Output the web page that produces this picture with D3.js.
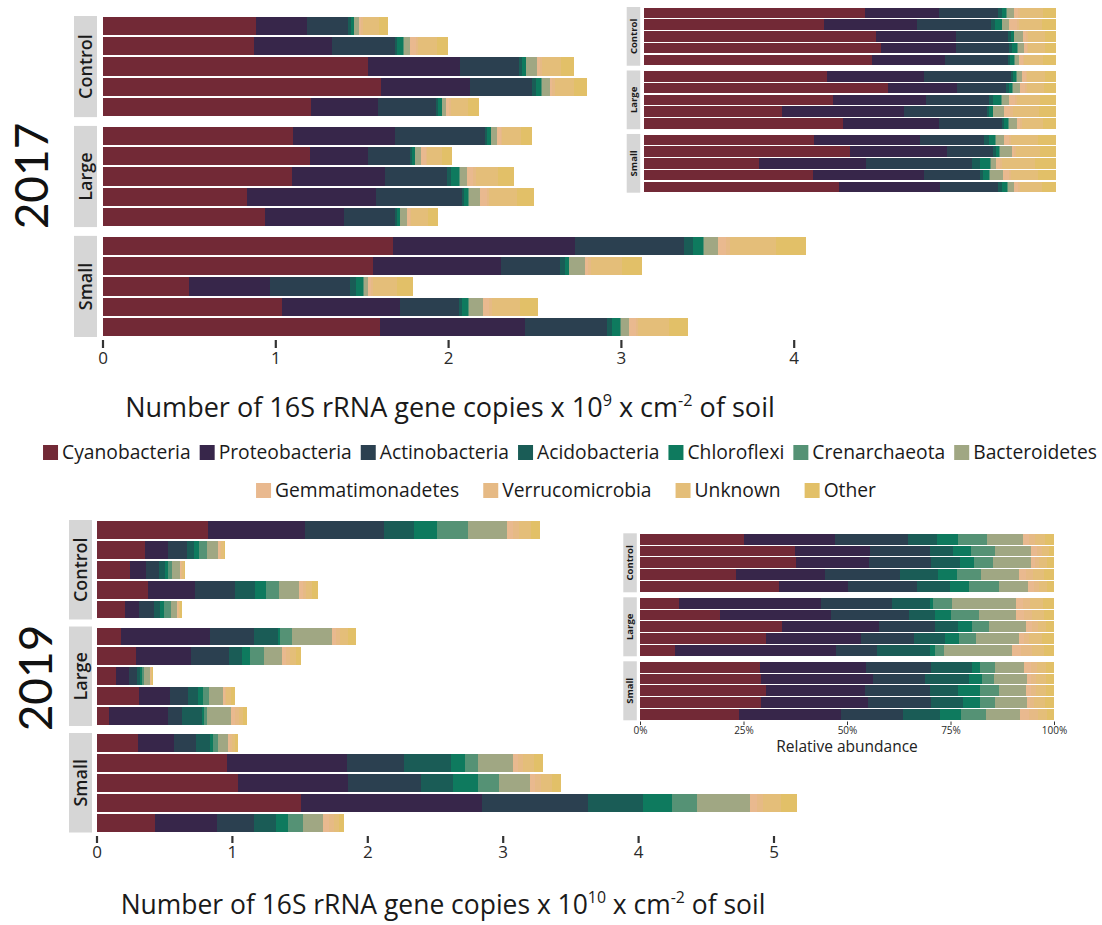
<!DOCTYPE html>
<html><head><meta charset="utf-8">
<script src="https://cdn.jsdelivr.net/npm/d3@7"></script>
<style>
body{margin:0;background:#fff}
svg text{font-family:Lato,"Open Sans",sans-serif}
</style>
</head><body>
<svg id="chart" width="1102" height="925"></svg>
<script>
const taxa = ["Cyanobacteria","Proteobacteria","Actinobacteria","Acidobacteria","Chloroflexi","Crenarchaeota","Bacteroidetes","Gemmatimonadetes","Verrucomicrobia","Unknown","Other"];
const taxonColors = ["#722936","#37264a","#2b4050","#1a5c56","#0e7a5e","#559275","#a0a783","#e9b98f","#e6ba85","#e4be79","#e2c068"];
const groups = ["Control","Large","Small"];
const sampleIds = ["C1","C2","C3","C4","C5","L1","L2","L3","L4","L5","S1","S2","S3","S4","S5"];

// 2017: 16S copies x 10^9 per cm2 (rows C1..C5, L1..L5, S1..S5)
const cyanobacteria2017    = [0.887,0.877,1.537,1.614,1.209, 1.105,1.199,1.094,0.839,0.939, 1.684,1.567,0.502,1.037,1.608];
const proteobacteria2017   = [0.296,0.452,0.532,0.513,0.386, 0.587,0.338,0.539,0.742,0.456, 1.051,0.737,0.467,0.683,0.835];
const actinobacteria2017   = [0.237,0.362,0.341,0.361,0.333, 0.521,0.242,0.363,0.498,0.296, 0.628,0.344,0.462,0.341,0.478];
const acidobacteria2017    = [0.016,0.015,0.020,0.019,0.013, 0.014,0.013,0.021,0.014,0.011, 0.055,0.027,0.035,0.019,0.027];
const chloroflexi2017      = [0.017,0.035,0.019,0.033,0.021, 0.019,0.016,0.047,0.023,0.018, 0.055,0.022,0.041,0.036,0.047];
const crenarchaeota2017    = [0.002,0.003,0.004,0.004,0.003, 0.003,0.003,0.004,0.005,0.003, 0.007,0.005,0.004,0.005,0.005];
const bacteroidetes2017    = [0.027,0.034,0.060,0.043,0.021, 0.036,0.035,0.042,0.061,0.041, 0.080,0.088,0.023,0.082,0.049];
const gemmatimonadetes2017 = [0.016,0.035,0.019,0.017,0.019, 0.019,0.024,0.035,0.042,0.014, 0.049,0.022,0.019,0.036,0.036];
const verrucomicrobia2017  = [0.010,0.012,0.012,0.012,0.010, 0.010,0.010,0.014,0.015,0.010, 0.020,0.015,0.010,0.014,0.016];
const unknown2017          = [0.090,0.110,0.110,0.115,0.100, 0.105,0.085,0.130,0.160,0.095, 0.270,0.180,0.140,0.165,0.175];
const other2017            = [0.052,0.067,0.072,0.070,0.064, 0.065,0.055,0.090,0.098,0.061, 0.174,0.116,0.091,0.105,0.115];

// 2019: 16S copies x 10^10 per cm2
const cyanobacteria2019    = [0.823,0.356,0.247,0.380,0.212, 0.180,0.290,0.144,0.311,0.095, 0.303,0.966,1.047,1.510,0.435];
const proteobacteria2019   = [0.718,0.172,0.115,0.348,0.104, 0.656,0.407,0.098,0.233,0.430, 0.267,0.886,0.814,1.340,0.454];
const actinobacteria2019   = [0.583,0.137,0.098,0.298,0.106, 0.330,0.285,0.057,0.131,0.110, 0.165,0.417,0.539,0.781,0.272];
const acidobacteria2019    = [0.224,0.053,0.046,0.148,0.049, 0.174,0.092,0.024,0.077,0.142, 0.102,0.348,0.231,0.406,0.164];
const chloroflexi2019      = [0.169,0.042,0.021,0.077,0.030, 0.013,0.061,0.014,0.034,0.015, 0.021,0.101,0.187,0.211,0.092];
const crenarchaeota2019    = [0.227,0.055,0.030,0.095,0.046, 0.090,0.102,0.017,0.042,0.022, 0.038,0.103,0.156,0.185,0.108];
const bacteroidetes2019    = [0.290,0.082,0.060,0.150,0.044, 0.293,0.132,0.038,0.106,0.183, 0.074,0.258,0.224,0.396,0.150];
const gemmatimonadetes2019 = [0.045,0.013,0.007,0.026,0.008, 0.032,0.030,0.006,0.012,0.025, 0.016,0.033,0.043,0.048,0.041];
const verrucomicrobia2019  = [0.045,0.013,0.007,0.027,0.008, 0.032,0.031,0.006,0.013,0.028, 0.016,0.041,0.042,0.049,0.040];
const unknown2019          = [0.083,0.015,0.012,0.045,0.012, 0.060,0.042,0.008,0.033,0.032, 0.023,0.076,0.078,0.130,0.038];
const other2019            = [0.070,0.012,0.011,0.039,0.011, 0.053,0.037,0.008,0.029,0.028, 0.020,0.066,0.067,0.115,0.033];

const ticks2017 = [0,1,2,3,4];
const ticks2019 = [0,1,2,3,4,5];
const relTicks = [0,0.25,0.5,0.75,1];
const years = ["2017","2019"];

const series2017 = [cyanobacteria2017,proteobacteria2017,actinobacteria2017,acidobacteria2017,chloroflexi2017,crenarchaeota2017,bacteroidetes2017,gemmatimonadetes2017,verrucomicrobia2017,unknown2017,other2017];
const series2019 = [cyanobacteria2019,proteobacteria2019,actinobacteria2019,acidobacteria2019,chloroflexi2019,crenarchaeota2019,bacteroidetes2019,gemmatimonadetes2019,verrucomicrobia2019,unknown2019,other2019];

function buildRows(series){
  return sampleIds.map((id,i)=>{
    const r = {id, group: groups[Math.floor(i/5)], idx: i%5};
    taxa.forEach((t,k)=>{ r[t] = series[k][i]; });
    return r;
  });
}

const svg = d3.select("#chart");

function drawFacets(rows, cfg){
  const stack = d3.stack().keys(taxa);
  if (cfg.relative) stack.offset(d3.stackOffsetExpand);
  const layers = stack(rows);
  const x = d3.scaleLinear().domain(cfg.domain).range(cfg.range);
  const panelY = d3.scaleBand().domain(groups).range([cfg.top, cfg.bottom]).paddingInner(cfg.panelPad);
  const rowY = d3.scaleBand().domain(d3.range(5)).range([0, panelY.bandwidth()]).paddingInner(0.1).paddingOuter(0.05);
  const g = svg.append("g");
  groups.forEach(gn=>{
    const py = panelY(gn), ph = panelY.bandwidth();
    g.append("rect").attr("x",cfg.stripX).attr("y",py).attr("width",cfg.stripW).attr("height",ph).attr("fill","#d6d6d6");
    g.append("text")
      .attr("transform",`translate(${cfg.stripX+cfg.stripW/2+cfg.stripFont*0.36},${py+ph/2}) rotate(-90)`)
      .attr("text-anchor","middle")
      .attr("font-size",cfg.stripFont).attr("font-weight",cfg.stripWeight).attr("fill","#1a1a1a")
      .style("font-family",cfg.stripFamily || null)
      .text(gn);
  });
  g.append("g").selectAll("g").data(layers).join("g")
    .attr("fill",(d,i)=>taxonColors[i])
    .selectAll("rect").data(d=>d).join("rect")
    .attr("shape-rendering","crispEdges")
    .attr("x",d=>x(d[0]))
    .attr("width",d=>Math.max(0,x(d[1])-x(d[0])))
    .attr("y",d=>panelY(d.data.group)+rowY(d.data.idx))
    .attr("height",rowY.bandwidth());
  return {x, panelY};
}

function styleAxis(ag, fontSize, strokeW){
  ag.select(".domain").remove();
  ag.selectAll(".tick line").attr("stroke","#333").attr("stroke-width",strokeW);
  ag.selectAll(".tick text").attr("fill","#2a2a2a").attr("font-size",fontSize).style("font-family","'Open Sans', sans-serif");
}

// ---------- 2017 main ----------
const rows2017 = buildRows(series2017);
const m17 = drawFacets(rows2017,{domain:[0,4.1],range:[102.5,102.5+172.8*4.1],top:16,bottom:337,panelPad:0.08,stripX:74,stripW:23,stripFont:18,stripWeight:600,stripFamily:"'Open Sans', sans-serif"});
const ax17 = svg.append("g").attr("transform","translate(0,340)")
  .call(d3.axisBottom(m17.x).tickValues(ticks2017).tickSize(8).tickPadding(4).tickFormat(d3.format("d")));
styleAxis(ax17,17,2.2);

// ---------- 2017 inset (relative) ----------
drawFacets(rows2017,{relative:true,domain:[0,1],range:[643.5,1055.5],top:7,bottom:192.7,panelPad:0.075,stripX:626.7,stripW:13.5,stripFont:9.5,stripWeight:700,stripFamily:"'Open Sans', sans-serif"});

// ---------- 2019 main ----------
const rows2019 = buildRows(series2019);
const m19 = drawFacets(rows2019,{domain:[0,5.2],range:[96.5,96.5+135.4*5.2],top:520,bottom:832.5,panelPad:0.066,stripX:69,stripW:23,stripFont:18,stripWeight:600,stripFamily:"'Open Sans', sans-serif"});
const ax19 = svg.append("g").attr("transform","translate(0,836)")
  .call(d3.axisBottom(m19.x).tickValues(ticks2019).tickSize(7).tickPadding(3).tickFormat(d3.format("d")));
styleAxis(ax19,17,2.2);

// ---------- 2019 inset (relative) ----------
const i19 = drawFacets(rows2019,{relative:true,domain:[0,1],range:[640,1054],top:533.3,bottom:720.3,panelPad:0.078,stripX:623.3,stripW:13.5,stripFont:9.5,stripWeight:700,stripFamily:"'Open Sans', sans-serif"});
const axi19 = svg.append("g").attr("transform","translate(0,721.5)")
  .call(d3.axisBottom(i19.x).tickValues(relTicks).tickSize(3.5).tickPadding(2).tickFormat(d3.format(".0%")));
styleAxis(axi19,10,1);
svg.append("text").attr("x",847).attr("y",752).attr("text-anchor","middle").attr("font-size",15.5)
  .style("font-family","'Open Sans', sans-serif").attr("fill","#222").text("Relative abundance");

// ---------- year labels ----------
[[years[0],48,176],[years[1],52,678]].forEach(([t,bx,cy])=>{
  svg.append("text").attr("transform",`translate(${bx},${cy}) rotate(-90)`)
    .attr("text-anchor","middle").attr("font-size",46).attr("fill","#111")
    .style("font-family","Lato, sans-serif").text(t);
});

// ---------- axis titles (font fitted to the reference width) ----------
function axisTitle(cx, y, exp, targetW){
  const t = svg.append("text").attr("x",cx).attr("y",y).attr("text-anchor","middle")
    .style("font-family","'Open Sans', sans-serif").attr("fill","#1a1a1a");
  const fs = 22;
  t.attr("font-size",fs);
  t.append("tspan").text("Number of 16S rRNA gene copies x 10");
  t.append("tspan").attr("class","sup").attr("font-size",fs*0.6).attr("dy",-fs*0.4).text(exp);
  t.append("tspan").attr("class","back").attr("dy",fs*0.4).text(" x cm");
  t.append("tspan").attr("class","sup").attr("font-size",fs*0.6).attr("dy",-fs*0.4).text("-2");
  t.append("tspan").attr("class","back").attr("dy",fs*0.4).text(" of soil");
  const w = t.node().getComputedTextLength();
  const nfs = fs*targetW/w;
  t.attr("font-size",nfs);
  t.selectAll("tspan.sup").attr("font-size",nfs*0.6).attr("dy",-nfs*0.4);
  t.selectAll("tspan.back").attr("dy",nfs*0.4);
}
axisTitle(450,417,"9",650);
axisTitle(443,914,"10",645);

// ---------- legend ----------
const legendRows = [taxa.slice(0,7), taxa.slice(7)];
const legendCfg = [{y:445, gap:9, cx:570},{y:483, gap:24, cx:566}];
const sq = 15;
// fit font so the first legend row spans the same width as in the reference
const probe = svg.append("text").attr("font-size",17).style("font-family","'Open Sans', sans-serif");
let probeW = 0;
legendRows[0].forEach(n=>{ probe.text(n); probeW += probe.node().getComputedTextLength(); });
probe.remove();
const fixedW = legendRows[0].length*(sq+4) + (legendRows[0].length-1)*legendCfg[0].gap;
const legendFont = 17*(1054 - fixedW)/probeW;
legendRows.forEach((items,ri)=>{
  const cfg = legendCfg[ri];
  const lg = svg.append("g");
  let xpos = 0;
  items.forEach(name=>{
    const k = taxa.indexOf(name);
    const it = lg.append("g").attr("transform",`translate(${xpos},${cfg.y})`);
    it.append("rect").attr("width",sq).attr("height",sq).attr("fill",taxonColors[k]);
    const tx = it.append("text").attr("x",sq+4).attr("y",sq/2).attr("dy","0.35em").attr("font-size",legendFont)
      .style("font-family","'Open Sans', sans-serif").attr("fill","#1a1a1a").text(name);
    xpos += sq + 4 + tx.node().getComputedTextLength() + cfg.gap;
  });
  const total = xpos - cfg.gap;
  lg.attr("transform",`translate(${cfg.cx - total/2},0)`);
});
</script>
</body></html>
